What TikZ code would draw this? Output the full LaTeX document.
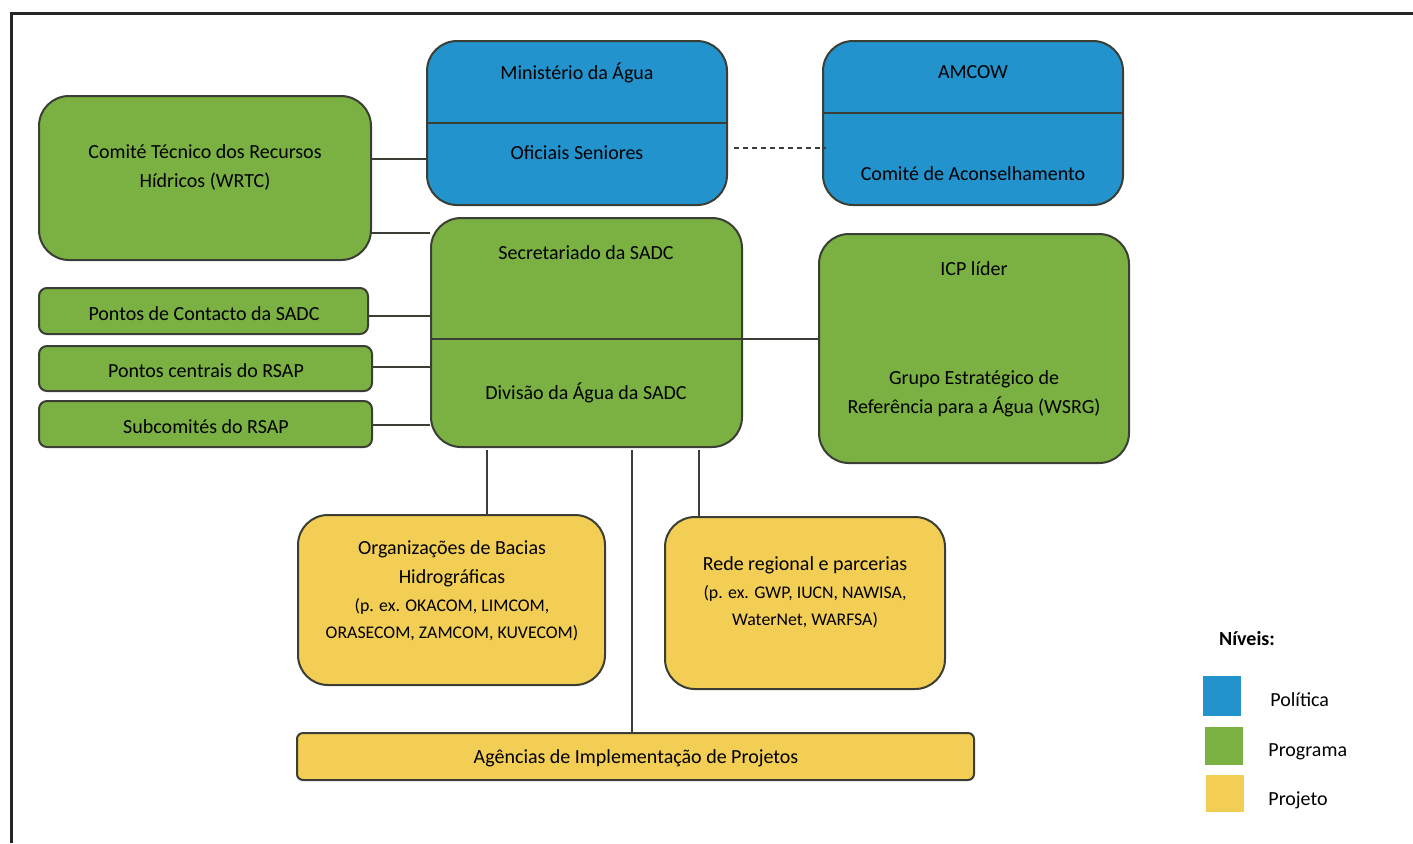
\documentclass[tikz,border=0pt]{standalone}
\usepackage{fontspec}
\setmainfont{Carlito}
\usetikzlibrary{fit}
\definecolor{pol}{RGB}{34,147,204}
\definecolor{prog}{RGB}{122,177,66}
\definecolor{proj}{RGB}{242,206,85}
\definecolor{edgec}{RGB}{58,62,52}
\definecolor{framec}{RGB}{38,38,38}
\tikzset{
  box/.style={draw=edgec, line width=1pt, rounded corners=15pt, inner sep=0pt},
  sbox/.style={box, rounded corners=4pt},
  lab/.style={font=\fontsize{10}{14.5}\selectfont, align=center, text=black, inner sep=0pt, yshift=-0.75pt},
  slab/.style={font=\fontsize{8.9}{13.5}\selectfont, align=center, text=black, inner sep=0pt, yshift=-0.75pt},
  conn/.style={draw=edgec, line width=1pt},
  swatch/.style={inner sep=0pt},
}
\begin{document}
\begin{tikzpicture}[x=0.5pt, y=-0.5pt]
\useasboundingbox (0,0) rectangle (1413,843);
% frame
\draw[framec, line width=1.5pt] (11,843) -- (11,13) -- (1413,13);

% boxes
\node[box, fill=prog, fit={(39,96) (371,260)}] (wrtc) {};
\node[box, fill=pol, fit={(427,41) (727,205)}] (min) {};
\node[box, fill=pol, fit={(823,41) (1123,205)}] (amcow) {};
\node[box, fill=prog, fit={(431,218) (742,447)}] (sadc) {};
\node[box, fill=prog, fit={(819,234) (1129,463)}] (icp) {};
\node[sbox, fill=prog, fit={(39,288) (368,334)}] (pcs) {};
\node[sbox, fill=prog, fit={(39,346) (372,391)}] (pcr) {};
\node[sbox, fill=prog, fit={(39,401) (372,447)}] (sub) {};
\node[box, fill=proj, fit={(298,515) (605,685)}] (org) {};
\node[box, fill=proj, fit={(665,517) (945,689)}] (rede) {};
\node[sbox, rounded corners=3pt, fill=proj, fit={(297,733) (974,780)}] (agen) {};

% dividers
\draw[conn] (min.west |- 0,123) -- (min.east |- 0,123);
\draw[conn] (amcow.west |- 0,113) -- (amcow.east |- 0,113);
\draw[conn] (sadc.west |- 0,339) -- (sadc.east |- 0,339);

% texts
\node[lab] (wrtcT) at (205,166) {Comité Técnico dos Recursos\\Hídricos (WRTC)};
\node[lab] (minT1) at (577,71) {Ministério da Água};
\node[lab] (minT2) at (577,151) {Oficiais Seniores};
\node[lab] (amT1) at (973,71) {AMCOW};
\node[lab] (amT2) at (973,172) {Comité de Aconselhamento};
\node[lab] (sadcT1) at (586,251) {Secretariado da SADC};
\node[lab] (sadcT2) at (586,391) {Divisão da Água da SADC};
\node[lab] (icpT1) at (974,267) {ICP líder};
\node[lab] (icpT2) at (974,392) {Grupo Estratégico de\\Referência para a Água (WSRG)};
\node[lab] (pcsT) at (204,312) {Pontos de Contacto da SADC};
\node[lab] (pcrT) at (206,369) {Pontos centrais do RSAP};
\node[lab] (subT) at (206,425) {Subcomités do RSAP};
\node[lab] (orgT1) at (452,562) {Organizações de Bacias\\Hidrográficas};
\node[slab] (orgT2) at (452,618) {(p. ex. OKACOM, LIMCOM,\\ORASECOM, ZAMCOM, KUVECOM)};
\node[lab] (redeT1) at (805,564) {Rede regional e parcerias};
\node[slab] (redeT2) at (805,605) {(p. ex. GWP, IUCN, NAWISA,\\WaterNet, WARFSA)};
\node[lab] (agenT) at (636,757) {Agências de Implementação de Projetos};

% connectors
\draw[conn] (wrtc.east |- 0,159) -- (min.west |- 0,159);
\draw[conn] (wrtc.east |- 0,233) -- (sadc.west |- 0,233);
\draw[conn, dash pattern=on 2.5pt off 2pt] ([xshift=3pt]min.east |- 0,148) -- ([xshift=2pt]amcow.west |- 0,148);
\draw[conn] (pcs.east |- 0,316) -- (sadc.west |- 0,316);
\draw[conn] (pcr.east |- 0,367) -- (sadc.west |- 0,367);
\draw[conn] (sub.east |- 0,425) -- (sadc.west |- 0,425);
\draw[conn] (sadc.east |- 0,339) -- (icp.west |- 0,339);
\draw[conn] (487,450) coordinate (s1) -- (s1 |- org.north);
\draw[conn] (632,450) coordinate (s2) -- (s2 |- agen.north);
\draw[conn] (699,450) coordinate (s3) -- (s3 |- rede.north);

% legend
\node[font=\fontsize{10}{12}\selectfont\bfseries, inner sep=0pt] (legT) at (1247,639) {Níveis:};
\node[swatch, fill=pol, fit={(1203,676) (1241,716)}] (lg1) {};
\node[swatch, fill=prog, fit={(1205,727) (1243,765)}] (lg2) {};
\node[swatch, fill=proj, fit={(1206,775) (1244,812)}] (lg3) {};
\node[lab, anchor=west] (lg1T) at (1270,698) {Política};
\node[lab, anchor=west] (lg2T) at (1268,750) {Programa};
\node[lab, anchor=west] (lg3T) at (1268,799) {Projeto};
\end{tikzpicture}
\end{document}
